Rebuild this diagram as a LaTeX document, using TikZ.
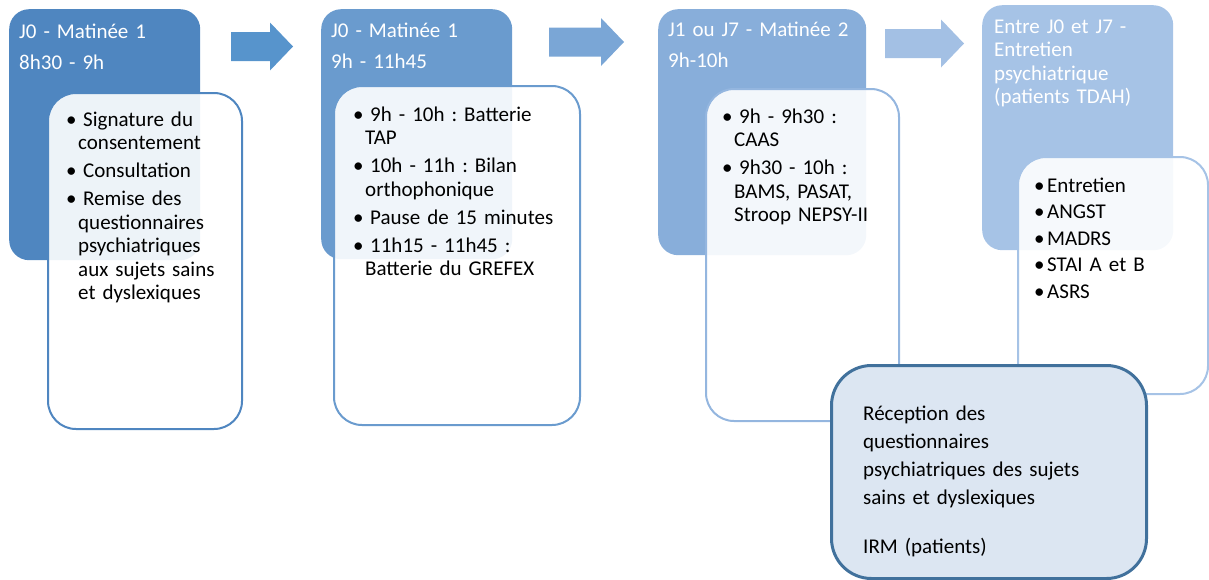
\documentclass[tikz,border=0pt]{standalone}
\usepackage{fontspec}
\setmainfont{Carlito}
\usepackage{tikz}
\usetikzlibrary{positioning}
\frenchspacing

\definecolor{stageA}{HTML}{4F86C0}
\definecolor{stageB}{HTML}{6A9BCE}
\definecolor{stageC}{HTML}{88AEDA}
\definecolor{stageD}{HTML}{A6C3E6}
\definecolor{arrowA}{HTML}{5794CC}
\definecolor{arrowB}{HTML}{7AA6D6}
\definecolor{arrowC}{HTML}{A3C0E4}
\definecolor{lineC}{HTML}{94B6DF}
\definecolor{noteFill}{HTML}{DCE6F2}
\definecolor{noteLine}{HTML}{41719C}

\newcommand{\listfont}{\fontsize{21}{23.5}\selectfont}
\newcommand{\bul}[2][17pt]{\hangindent=12pt\hangafter=1\noindent\strut\makebox[#1][l]{\textbullet}#2\par}

\begin{document}
\begin{tikzpicture}[
    x=1pt, y=-1pt,
    stage/.style={rectangle, rounded corners=20pt, anchor=north west,
                  inner sep=0pt},
    detail/.style={rectangle, rounded corners=28pt, anchor=north west,
                   inner sep=0pt, line width=2pt, fill=white, fill opacity=0.9},
    head/.style ={anchor=north west, inner sep=0pt, text=white, text width=#1,
                  font=\listfont,
                  execute at begin node={\frenchspacing\raggedright\setlength{\parskip}{7.5pt}}},
    items/.style={anchor=north west, inner sep=0pt, text width=#1,
                  font=\listfont,
                  execute at begin node={\frenchspacing\raggedright\setlength{\parskip}{4.5pt}}}
]
\useasboundingbox (0,0) rectangle (1209,579);

%–––– STAGES ––––––––––––––––––––––––––––––––––––––––
\node (day1) [stage, fill=stageA, minimum width=191, minimum height=251] at (9,9) {};
\node (day2) [stage, fill=stageB, minimum width=191, minimum height=250] at (321,9) {};
\node (day3) [stage, fill=stageC, minimum width=208, minimum height=246] at (658,9) {};
\node (day4) [stage, fill=stageD, minimum width=191, minimum height=245] at (982,5) {};

\node (day1head) [head=180] at (19,21.5)  {\strut J0 - Matinée 1\par 8h30 - 9h};
\node (day2head) [head=180] at (331,20.5) {\strut J0 - Matinée 1\par 9h - 11h45};
\node (day3head) [head=190] at (668,19.5) {\strut J1 ou J7 - Matinée 2\par 9h-10h};
\node (day4head) [head=180] at (994,16.5)
  {\strut Entre J0 et J7 -\newline Entretien\newline psychiatrique\newline (patients TDAH)};

%–––– ARROWS ––––––––––––––––––––––––––––––––––––––––
\foreach \x/\l/\y/\c in {231/39/46.5/arrowA, 549/52/42/arrowB, 885/56/43.5/arrowC}
  \fill[\c] (\x,\y-14.5) -- (\x+\l,\y-14.5) -- (\x+\l,\y-24) -- (\x+\l+23,\y)
    -- (\x+\l,\y+24) -- (\x+\l,\y+14.5) -- (\x,\y+14.5) -- cycle;

%–––– DETAIL BOXES ––––––––––––––––––––––––––––––––––
\node (box1) [detail, draw=stageA, minimum width=194, minimum height=336] at (47,92) {};
\node (box2) [detail, draw=stageB, minimum width=246, minimum height=339] at (333,85) {};
\node (box3) [detail, draw=lineC,  minimum width=193, minimum height=332] at (705,88) {};
\node (box4) [detail, draw=stageD, minimum width=190, minimum height=237] at (1017,156) {};

\node (list1) [items=175] at (66,109.5)
  {\bul{Signature du\newline consentement}
   \bul{Consultation}
   \bul{Remise des\newline questionnaires\newline psychiatriques\newline aux sujets sains\newline et dyslexiques}};
\node (list2) [items=225] at (353,104.5)
  {\bul{9h - 10h : Batterie\newline TAP}
   \bul{10h - 11h : Bilan\newline orthophonique}
   \bul{Pause de 15 minutes}
   \bul{11h15 - 11h45 :\newline Batterie du GREFEX}};
\node (list3) [items=170] at (722,106.5)
  {\bul{9h - 9h30 :\newline CAAS}
   \bul{9h30 - 10h :\newline BAMS, PASAT,\newline Stroop NEPSY-II}};
\node (list4) [items=160, execute at begin node={\setlength{\parskip}{3pt}}] at (1034,175.5)
  {\bul[13pt]{Entretien}
   \bul[13pt]{ANGST}
   \bul[13pt]{MADRS}
   \bul[13pt]{STAI A et B}
   \bul[13pt]{ASRS}};

%–––– RECEPTION NOTE ––––––––––––––––––––––––––––––––
\node (note) [rectangle, rounded corners=40pt, anchor=north west, inner sep=0pt,
              fill=noteFill, draw=noteLine, line width=3pt,
              minimum width=315, minimum height=213] at (830,364) {};
\node (notetext) [anchor=north west, inner sep=0pt, text width=260,
                  font=\fontsize{21}{28}\selectfont,
                  execute at begin node={\frenchspacing\raggedright\setlength{\parskip}{21pt}}]
  at (863,400.4)
  {\strut Réception des\newline questionnaires\newline psychiatriques des sujets\newline sains et dyslexiques\par
   IRM (patients)};
\end{tikzpicture}
\end{document}
